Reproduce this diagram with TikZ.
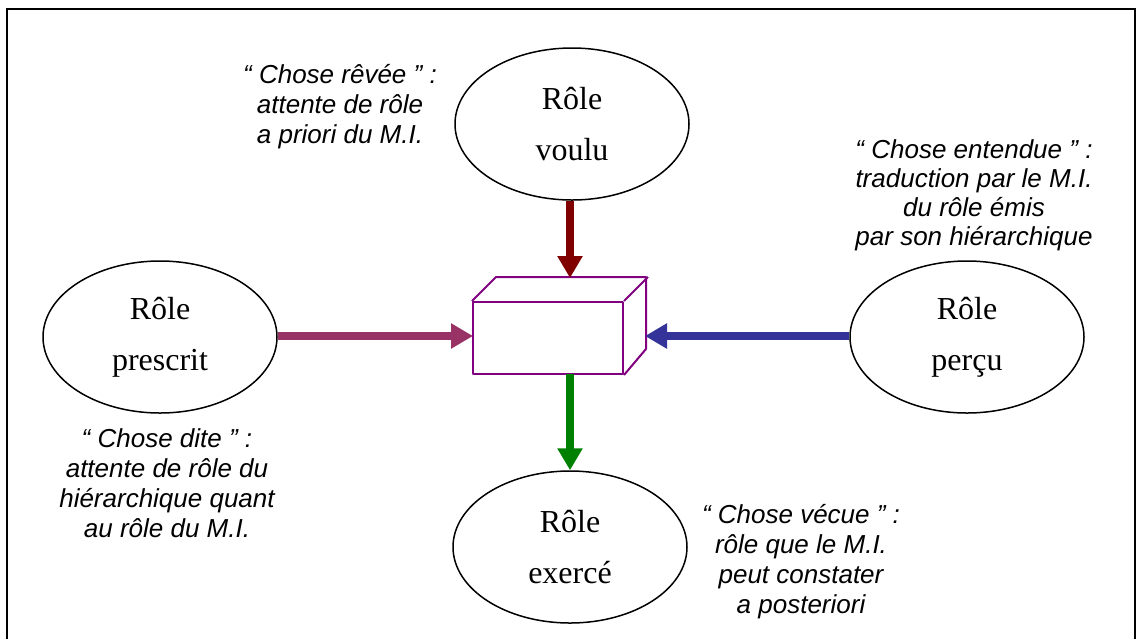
\documentclass[tikz,border=0pt]{standalone}
\usepackage{fontspec}
\setmainfont{Liberation Serif}
\setsansfont{Liberation Sans}
\usetikzlibrary{shapes.geometric,arrows.meta}
\definecolor{boxpurple}{RGB}{128,0,128}
\definecolor{arrred}{RGB}{128,0,0}
\definecolor{arrmag}{RGB}{153,51,102}
\definecolor{arrblue}{RGB}{51,51,153}
\definecolor{arrgreen}{RGB}{0,128,0}
\begin{document}
\begin{tikzpicture}[x=1pt,y=-1pt,
  role/.style={draw, ellipse, line width=1.5pt, minimum width=234pt, minimum height=152pt,
    inner sep=0pt, align=center, font=\fontsize{32}{51}\selectfont},
  note/.style={align=center, font=\sffamily\itshape\fontsize{26}{30}\selectfont, anchor=base},
  fleche/.style={line width=8pt, -{Triangle[length=22pt,width=24pt]}},
  cube/.style={draw=boxpurple, line width=2pt, line join=round}
]
\useasboundingbox (0,0) rectangle (1140,638);
\clip (0,0) rectangle (1140,638);
\draw[line width=2pt] (7,9) rectangle (1135,660);

% ellipses
\node[role] (voulu) at (572,124) {Rôle\\voulu};
\node[role] (prescrit) at (160,337) {Rôle\\prescrit};
\node[role] (percu) at (967,337) {Rôle\\perçu};
\node[role] (exerce) at (570,547) {Rôle\\exercé};

% central box
\node[cube, minimum width=150pt, minimum height=72pt, inner sep=0pt] (box) at (548,338) {};
\draw[cube] (box.north west) -- ++(24,-24) -- ++(150,0) -- ++(0,72) -- (box.south east)
            (box.north east) -- ++(24,-24);
\coordinate (boxtop) at (570,278);
\coordinate (boxright) at (645,336);
\coordinate (boxbottom) at (570,374);
\coordinate (boxleft) at (473,336);

% arrows
\draw[fleche, arrred] (boxtop |- voulu.south) -- (boxtop);
\draw[fleche, arrmag] (prescrit.east |- boxleft) -- (boxleft);
\draw[fleche, arrblue] (percu.west |- boxright) -- (boxright);
\draw[fleche, arrgreen] (boxbottom) -- (boxbottom |- exerce.north);

% notes (anchor = baseline of last line)
\node[note] (n1) at (340,143) {“ Chose rêvée ” :\\attente de rôle\\a priori du M.I.};
\node[note, font=\sffamily\itshape\fontsize{26}{29}\selectfont] (n2) at (974,245) {“ Chose entendue ” :\\traduction par le M.I.\\du rôle émis\\par son hiérarchique};
\node[note] (n3) at (167,537) {“ Chose dite ” :\\attente de rôle du\\hiérarchique quant\\au rôle du M.I.};
\node[note] (n4) at (801,613) {“ Chose vécue ” :\\rôle que le M.I.\\peut constater\\a posteriori};
\end{tikzpicture}
\end{document}
